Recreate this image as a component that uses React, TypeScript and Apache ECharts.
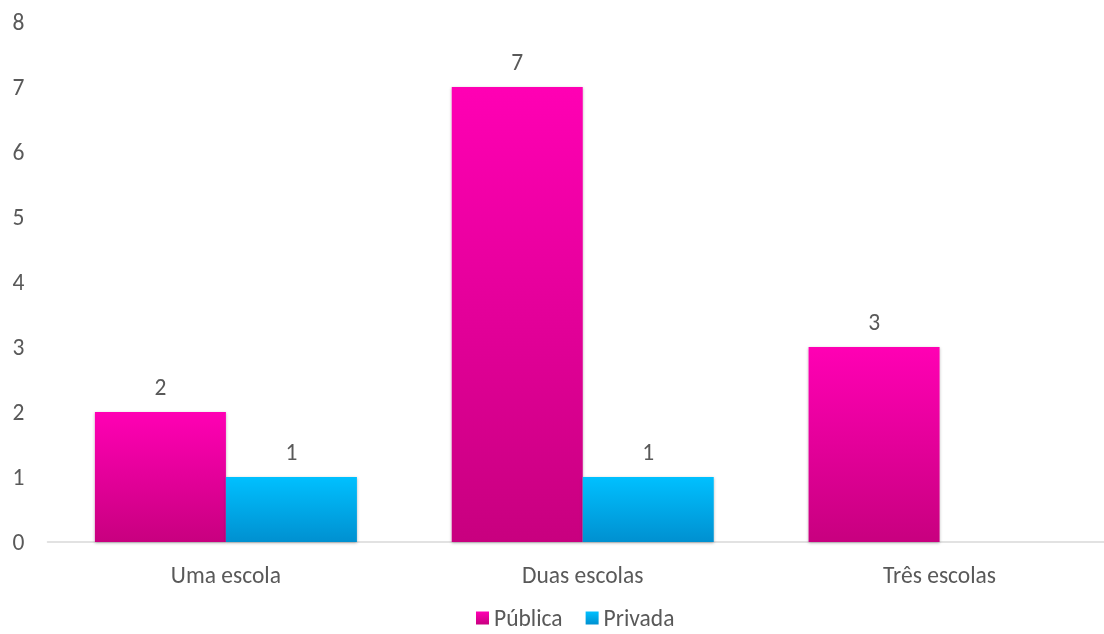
import React, { useEffect, useRef } from "react";
import * as echarts from "echarts";

const categories = ["Uma escola", "Duas escolas", "Três escolas"];
const seriesNames = ["Pública", "Privada"];
const publica = [2, 7, 3];
const privada: (number | null)[] = [1, 1, null];
const yTicks = { min: 0, max: 8, interval: 1 };

const FONT = "'Carlito', 'Open Sans', 'Noto Sans', sans-serif";
const TXT = "#595959";
const FS = 23.5;

const grad = (top: string, bottom: string) =>
  new echarts.graphic.LinearGradient(0, 0, 0, 1, [
    { offset: 0, color: top },
    { offset: 1, color: bottom },
  ]);

export default function App() {
  const ref = useRef<HTMLDivElement>(null);
  useEffect(() => {
    if (!ref.current) return;
    const chart = echarts.init(ref.current, undefined, { renderer: "svg" });
    const label = {
      show: true,
      position: "top" as const,
      distance: 13,
      color: TXT,
      fontSize: FS,
      fontFamily: FONT,
    };
    chart.setOption({
      animation: false,
      grid: { left: 47.5, right: 0, top: 22, bottom: 92, containLabel: false },
      legend: {
        left: 476,
        top: 606,
        padding: 0,
        itemWidth: 13,
        itemHeight: 13,
        itemGap: 23,
        icon: "rect",
        textStyle: { color: TXT, fontSize: FS, fontFamily: FONT },
        data: seriesNames,
      },
      xAxis: {
        type: "category",
        data: categories,
        axisLine: { lineStyle: { color: "#D9D9D9", width: 1.5 } },
        axisTick: { show: false },
        axisLabel: { color: TXT, fontSize: FS, fontFamily: FONT, margin: 21 },
      },
      yAxis: {
        type: "value",
        ...yTicks,
        axisLine: { show: false },
        axisTick: { show: false },
        splitLine: { show: false },
        axisLabel: { color: TXT, fontSize: FS, fontFamily: FONT, margin: 23 },
      },
      series: [
        {
          name: seriesNames[0],
          type: "bar",
          data: publica,
          barWidth: 131,
          barGap: "0%",
          itemStyle: {
            color: grad("#FF00B4", "#C8007F"),
            shadowBlur: 3,
            shadowColor: "rgba(0,0,0,0.3)",
            shadowOffsetY: 1,
          },
          label,
        },
        {
          name: seriesNames[1],
          type: "bar",
          data: privada,
          barWidth: 131,
          barGap: "0%",
          itemStyle: {
            color: grad("#00C0FF", "#0090D0"),
            shadowBlur: 3,
            shadowColor: "rgba(0,0,0,0.3)",
            shadowOffsetY: 1,
          },
          label,
        },
      ],
    });
    return () => chart.dispose();
  }, []);
  return (
    <div
      style={{
        position: "fixed",
        left: 0,
        top: 0,
        width: 1104,
        height: 634,
        overflow: "hidden",
      }}
    >
      <div ref={ref} style={{ width: 1118, height: 634 }} />
    </div>
  );
}
